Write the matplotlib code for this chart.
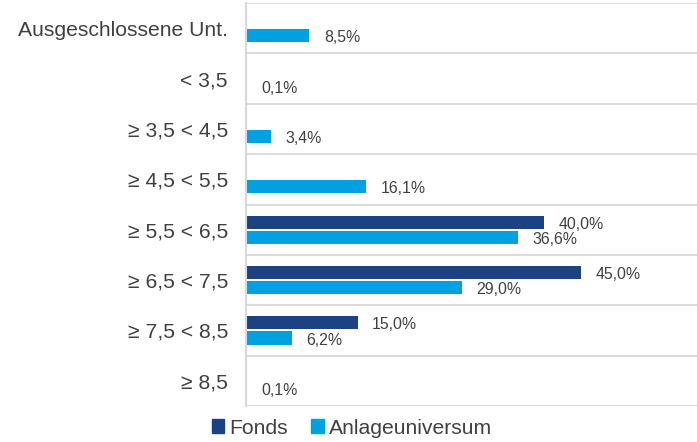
import matplotlib
matplotlib.use("Agg")
import matplotlib.pyplot as plt
from matplotlib.patches import Patch
import numpy as np

plt.rcParams['font.family'] = ['Liberation Sans', 'DejaVu Sans']

categories = ["Ausgeschlossene Unt.", "< 3,5", "≥ 3,5 < 4,5", "≥ 4,5 < 5,5",
              "≥ 5,5 < 6,5", "≥ 6,5 < 7,5", "≥ 7,5 < 8,5", "≥ 8,5"]
fonds = [0.0, 0.0, 0.0, 0.0, 40.0, 45.0, 15.0, 0.0]
universum = [8.5, 0.1, 3.4, 16.1, 36.6, 29.0, 6.2, 0.1]
series_names = ["Fonds", "Anlageuniversum"]

c_dark = "#1B4384"
c_light = "#00A0E1"
txt = "#404040"
grid_c = "#D9D9D9"

fig = plt.figure(figsize=(6.97, 4.42), dpi=100)
ax = fig.add_axes([246/697, 1-406/442, 1-246/697, (406-3)/442])

y = np.arange(len(categories))
h = 0.26
off = 0.15
ax.barh(y - off, fonds, height=h, color=c_dark)
ax.barh(y + off, universum, height=h, color=c_light)

def fmt(v):
    return f"{v:.1f}%".replace(".", ",")

for i, v in enumerate(fonds):
    if v > 0:
        ax.annotate(fmt(v), (v, y[i] - off), xytext=(10.5, -1.5), textcoords="offset points",
                    va="center", ha="left", fontsize=11.4, color=txt)
for i, v in enumerate(universum):
    if v > 0:
        ax.annotate(fmt(v), (v, y[i] + off), xytext=(10.5, -1.5), textcoords="offset points",
                    va="center", ha="left", fontsize=11.4, color=txt)

ax.set_xlim(0, (697-246)/7.44)
ax.set_ylim(len(categories) - 0.5, -0.5)
ax.set_yticks(y)
ax.set_yticklabels(categories, fontsize=15.2, color=txt)
ax.tick_params(axis="y", length=0, pad=13)
ax.set_xticks([])
for b in np.arange(-0.5, len(categories), 1.0):
    ax.axhline(b, color=grid_c, lw=1.3, zorder=0)
for s in ["top", "right", "bottom"]:
    ax.spines[s].set_visible(False)
ax.spines["left"].set_color(grid_c)
ax.spines["left"].set_linewidth(1.5)

handles = [Patch(color=c_dark), Patch(color=c_light)]
fig.legend(handles, series_names, loc="center", bbox_to_anchor=(352/697, 1-428/442),
           ncol=2, frameon=False, fontsize=15.2, handlelength=0.6, handleheight=0.6,
           handletextpad=0.25, columnspacing=1.1, labelcolor=txt)

fig.savefig("out.png", dpi=100)
